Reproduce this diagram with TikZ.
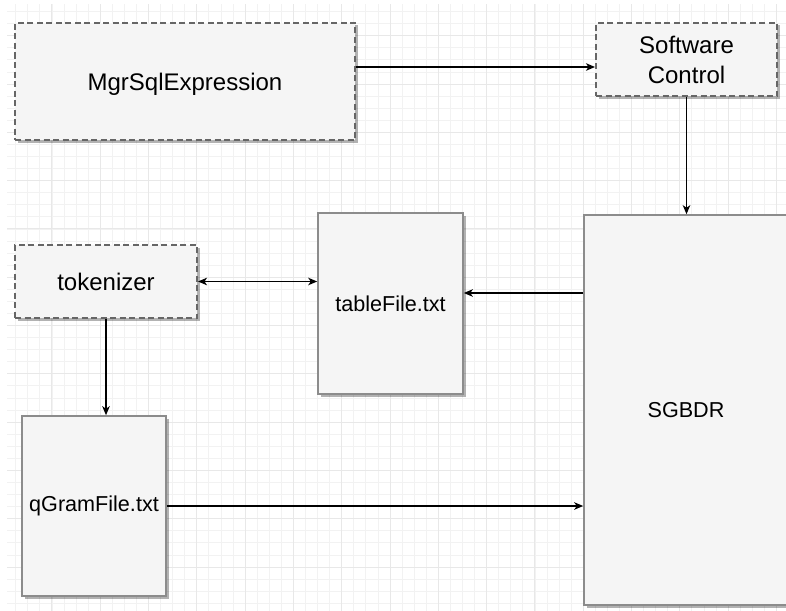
\documentclass[tikz,border=0pt]{standalone}
\usepackage{fontspec}
\setmainfont{Liberation Sans}
\usetikzlibrary{shadows,arrows.meta}

\begin{document}
\begin{tikzpicture}[x=1pt,y=1pt,->,>={Stealth[length=9pt,width=7.5pt,inset=2.5pt]},line width=1.3pt]
    \tikzstyle{block}=[rectangle,draw=black!45,line width=1.6pt,fill=black!4,inner sep=0pt,
        drop shadow={shadow xshift=2.5pt,shadow yshift=-2.5pt,fill=black,opacity=0.3}]
    \tikzstyle{soft block}=[block,draw=black!60,line width=2pt,dashed,dash pattern=on 6pt off 3.5pt,
        font=\fontsize{24}{30}\selectfont,align=center]
    \tikzstyle{file block}=[block,font=\fontsize{21.6}{26}\selectfont]
    \tikzstyle{minor line}=[-,draw=black!5,line width=0.8pt]
    \tikzstyle{major line}=[-,draw=black!9,line width=1pt]

    \path[use as bounding box,clip] (0,0) rectangle (786,-610);
    \fill[white] (0,0) rectangle (786,-610);

    % Background grid
    \begin{scope}
        \clip (7,-5) rectangle (786,-610);
        \draw[minor line,shift={(3.6,-35.7)},step=12.075pt] (-20,60) grid (800,-600);
        \draw[major line,shift={(3.6,-35.7)},step=48.3pt] (-20,60) grid (800,-600);
    \end{scope}

    % Draw the blocks
    \node[soft block,minimum width=340pt,minimum height=117pt,text depth=0pt] (mgr) at (185,-81.5) {MgrSqlExpression};
    \node[soft block,minimum width=181pt,minimum height=73pt] (soft) at (686.5,-59.5) {Software\\Control};
    \node[soft block,minimum width=182pt,minimum height=73pt] (tok) at (106,-281.5) {tokenizer};
    \node[file block,minimum width=145pt,minimum height=181pt] (tbl) at (390.5,-303.5) {tableFile.txt};
    \node[file block,minimum width=144pt,minimum height=180pt] (qgram) at (94,-506) {qGramFile.txt};
    \node[file block,minimum width=204pt,minimum height=390pt] (sgbdr) at (686,-410) {SGBDR};

    % Connect the blocks
    \draw ([yshift=14.5pt]mgr.east) -- ([yshift=-7.5pt]soft.west);
    \draw (soft.south) -- (soft.south |- sgbdr.north);
    \draw ([yshift=117pt]sgbdr.west) -- ([yshift=10.5pt]tbl.east);
    \draw[<->] (tok.east) -- (tok.east -| tbl.west);
    \draw (tok.south) -- (tok.south |- qgram.north);
    \draw (qgram.east) -- (qgram.east -| sgbdr.west);
\end{tikzpicture}
\end{document}
